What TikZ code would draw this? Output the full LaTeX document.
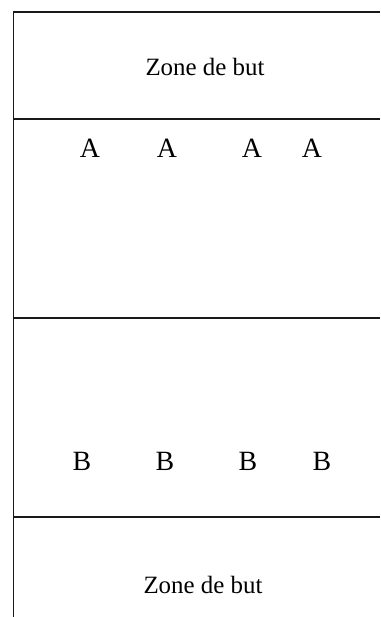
\documentclass[tikz,border=0pt]{standalone}
\usepackage{fontspec}
\setmainfont{Liberation Serif}
\begin{document}
\begin{tikzpicture}[x=1bp,y=-1bp,
  ln/.style={line width=1.5bp,draw=black!90},
  zone/.style={inner sep=0pt,font=\fontsize{25}{30}\selectfont},
  player/.style={inner sep=0pt,font=\fontsize{28}{33}\selectfont}]
\useasboundingbox (0,0) rectangle (380,617);
\coordinate (tl) at (13.5,12);
\coordinate (tr) at (380,12);
\coordinate (bl) at (13.5,617);
\coordinate (l1) at (13.5,119); \coordinate (r1) at (380,119);
\coordinate (l2) at (13.5,318); \coordinate (r2) at (380,318);
\coordinate (l3) at (13.5,517); \coordinate (r3) at (380,517);
\draw[ln] (tr) -- (tl) -- (bl);
\draw[ln] (l1) -- (r1);
\draw[ln] (l2) -- (r2);
\draw[ln] (l3) -- (r3);
\node[zone] (z1) at (205,67) {Zone de but};
\node[zone] (z2) at (203,585) {Zone de but};
\node[player] (a1) at (90,148) {A};
\node[player] (a2) at (167,148) {A};
\node[player] (a3) at (252,148) {A};
\node[player] (a4) at (312,148) {A};
\node[player] (b1) at (82,461) {B};
\node[player] (b2) at (165,461) {B};
\node[player] (b3) at (248,461) {B};
\node[player] (b4) at (322,461) {B};
\end{tikzpicture}
\end{document}
